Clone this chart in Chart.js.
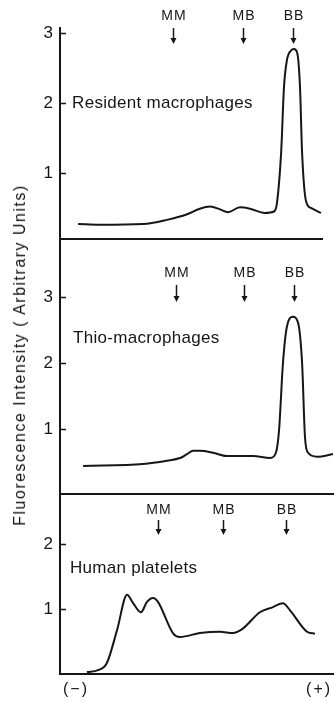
<!DOCTYPE html>
<html><head><meta charset="utf-8">
<script src="https://cdn.jsdelivr.net/npm/chart.js@4/dist/chart.umd.min.js"></script>
<style>
html,body{margin:0;padding:0;background:#fff;}
body{width:334px;height:702px;position:relative;overflow:hidden;}
canvas{position:absolute;left:0;}
#ytitle{position:absolute;left:20px;top:355px;transform:translate(-50%,-50%) rotate(-90deg);white-space:nowrap;font:16px "Liberation Sans",Arial,sans-serif;letter-spacing:1.5px;color:#111;}
</style></head><body>
<canvas id="c1" width="334" height="246" style="top:0"></canvas>
<canvas id="c2" width="334" height="260" style="top:239px"></canvas>
<canvas id="c3" width="334" height="208" style="top:494px"></canvas>
<div id="ytitle">Fluorescence Intensity ( Arbitrary Units)</div>
<script>
// ---- data (x = migration position, arbitrary units; y = fluorescence) ----
const markerLabels = ['MM', 'MB', 'BB'];
const yTickValues = [1, 2, 3];
const p3TickValues = [1, 2];

const p1Label = 'Resident macrophages';
const p1X = [6.9, 15.3, 31.7, 40.8, 48.5, 53.4, 57.3, 61.1, 64.1, 68.7, 72.5, 78.2, 81.7, 82.8, 84.4, 85.5, 86.6, 88.2, 89.3, 90.5, 91.6, 92.4, 93.9, 95.8, 99.6];
const p1Y = [0.27, 0.26, 0.27, 0.33, 0.41, 0.49, 0.52, 0.48, 0.44, 0.51, 0.49, 0.43, 0.45, 0.57, 1.29, 2.23, 2.61, 2.75, 2.77, 2.72, 2.23, 1.29, 0.60, 0.50, 0.43];
const p1MarkerX = [43.1, 69.8, 88.9];

const p2Label = 'Thio-macrophages';
const p2X = [8.8, 31.7, 40.8, 45.8, 48.5, 50.8, 53.4, 58.4, 63.7, 73.7, 80.2, 82.4, 83.6, 85.1, 86.6, 88.9, 90.8, 92.4, 93.5, 94.7, 98.1, 104.2];
const p2Y = [0.44, 0.47, 0.52, 0.56, 0.62, 0.67, 0.67, 0.64, 0.59, 0.59, 0.56, 0.64, 0.98, 2.0, 2.55, 2.70, 2.62, 2.0, 0.88, 0.64, 0.58, 0.62];
const p2MarkerX = [44.3, 70.2, 89.3];

const p3Label = 'Human platelets';
const p3X = [10.3, 14.5, 17.9, 21.8, 25.6, 27.9, 30.9, 33.2, 35.5, 37.4, 43.1, 45.8, 53.4, 61.1, 66.0, 69.5, 76.3, 81.3, 85.1, 87.8, 94.3, 97.3];
const p3Y = [0.03, 0.06, 0.17, 0.68, 1.22, 1.09, 0.95, 1.11, 1.17, 1.11, 0.63, 0.57, 0.63, 0.65, 0.63, 0.69, 0.95, 1.03, 1.09, 0.98, 0.65, 0.62];
const p3MarkerX = [37.4, 62.2, 86.3];

const endLabels = ['(\u2212)', '(+)'];
const endLabelX = [6.1, 98.9];

// ---- styling ----
const INK = '#161616';
const FONT = '"Liberation Sans", Arial, sans-serif';

const decor = {
  id: 'decor',
  afterDraw(chart, args, o) {
    const {ctx, chartArea} = chart;
    const xs = chart.scales.x, ys = chart.scales.y;
    ctx.save();
    ctx.strokeStyle = INK; ctx.fillStyle = INK;
    // inward tick marks
    ctx.lineWidth = 1.5;
    ys.ticks.forEach(t => {
      const py = Math.round(ys.getPixelForValue(t.value)) + 0.5;
      ctx.beginPath(); ctx.moveTo(chartArea.left, py); ctx.lineTo(chartArea.left + 6, py); ctx.stroke();
    });
    // band markers with arrows
    ctx.font = '14px ' + FONT;
    ctx.letterSpacing = '1px';
    ctx.textAlign = 'center'; ctx.textBaseline = 'middle';
    o.markerX.forEach((mx, i) => {
      const px = Math.round(xs.getPixelForValue(mx)) + 0.5;
      ctx.fillText(markerLabels[i], px + 0.5, o.textY);
      ctx.lineWidth = 1.5;
      ctx.beginPath(); ctx.moveTo(px, o.arrowTop); ctx.lineTo(px, o.arrowTip - 5); ctx.stroke();
      ctx.beginPath();
      ctx.moveTo(px - 3, o.arrowTip - 6); ctx.lineTo(px + 3, o.arrowTip - 6); ctx.lineTo(px, o.arrowTip);
      ctx.closePath(); ctx.fill();
    });
    // panel label
    ctx.font = '17px ' + FONT;
    ctx.letterSpacing = '0.3px';
    ctx.textAlign = 'left';
    ctx.fillText(o.label, xs.getPixelForValue(o.labelX), ys.getPixelForValue(o.labelY));
    // end labels
    if (o.ends) {
      ctx.font = '16px ' + FONT;
      ctx.letterSpacing = '2px';
      ctx.textAlign = 'center';
      endLabels.forEach((s, i) => ctx.fillText(s, xs.getPixelForValue(endLabelX[i]), o.endY));
    }
    ctx.restore();
  }
};

function makePanel(id, xs, yv, ticks, cfg) {
  return new Chart(document.getElementById(id), {
    type: 'line',
    data: {
      datasets: [{
        data: xs.map((x, i) => ({x, y: yv[i]})),
        borderColor: INK, borderWidth: 2, pointRadius: 0,
        cubicInterpolationMode: 'monotone', fill: false
      }]
    },
    options: {
      responsive: false, animation: false, events: [],
      layout: {padding: {top: cfg.padTop, bottom: cfg.padBottom, left: 0, right: cfg.padRight}},
      plugins: {legend: {display: false}, tooltip: {enabled: false}, decor: cfg.decor},
      scales: {
        x: {
          type: 'linear', min: 0, max: cfg.xMax,
          grid: {display: false, drawTicks: false},
          ticks: {display: false},
          border: {display: true, color: INK, width: 2},
          afterFit: s => { s.height = 0; s.paddingLeft = 0; s.paddingRight = 0; }
        },
        y: {
          type: 'linear', min: cfg.yMin, max: cfg.yMax,
          afterBuildTicks: s => { s.ticks = ticks.map(v => ({value: v})); },
          grid: {display: false, drawTicks: false},
          border: {display: true, color: INK, width: 2},
          ticks: {padding: 7, color: INK, font: {family: FONT, size: 17}, callback: v => String(v)},
          afterFit: s => { s.width = 60; s.paddingTop = 0; s.paddingBottom = 0; }
        }
      }
    },
    plugins: [decor]
  });
}

makePanel('c1', p1X, p1Y, yTickValues, {
  padTop: 28, padBottom: 7, padRight: 12, xMax: 100, yMin: 0.057, yMax: 3.071,
  decor: {markerX: p1MarkerX, textY: 16, arrowTop: 28, arrowTip: 44, label: p1Label, labelX: 4.6, labelY: 2.0}
});
makePanel('c2', p2X, p2Y, yTickValues, {
  padTop: 0, padBottom: 5, padRight: 0, xMax: 104.58, yMin: 0.015, yMax: 3.879,
  decor: {markerX: p2MarkerX, textY: 34, arrowTop: 46, arrowTip: 63, label: p2Label, labelX: 5.0, labelY: 2.38}
});
makePanel('c3', p3X, p3Y, p3TickValues, {
  padTop: 0, padBottom: 28, padRight: 0, xMax: 104.58, yMin: 0, yMax: 2.77,
  decor: {markerX: p3MarkerX, textY: 16, arrowTop: 26, arrowTip: 41, label: p3Label, labelX: 3.8, labelY: 1.63, ends: true, endY: 196}
});
</script>
</body></html>
